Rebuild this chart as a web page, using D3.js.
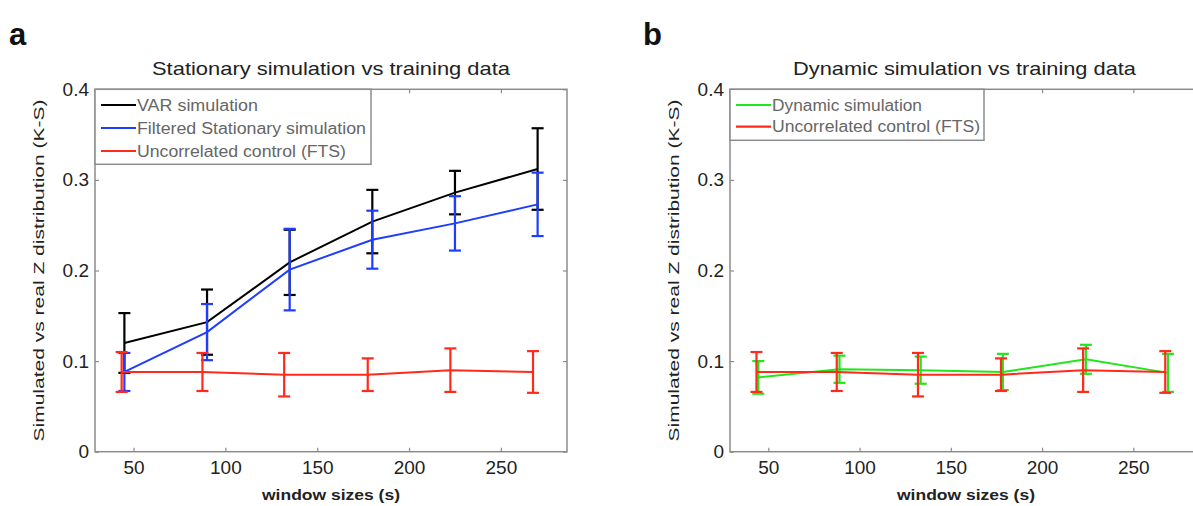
<!DOCTYPE html>
<html>
<head>
<meta charset="utf-8">
<script src="https://cdn.jsdelivr.net/npm/d3@7"></script>
<style>
  body { margin: 0; background: #fff; }
  text { font-family: "Liberation Sans", Arial, sans-serif; }
</style>
</head>
<body>
<div id="chart"></div>
<script>
// window sizes (s)
var xVar = [45, 90, 135, 180, 225, 270];
var xCtrl = [43.5, 87.5, 132, 177.5, 222.5, 267.5];
var xDyn = [44.5, 89, 133.5, 178.5, 224, 269];

// panel a
var varMean = [0.120, 0.143, 0.209, 0.254, 0.286, 0.312];
var varErr = [0.033, 0.036, 0.036, 0.035, 0.024, 0.045];
var filtMean = [0.088, 0.132, 0.201, 0.234, 0.252, 0.273];
var filtErr = [0.021, 0.031, 0.045, 0.032, 0.030, 0.035];
var ctrlMean = [0.088, 0.088, 0.085, 0.085, 0.090, 0.088];
var ctrlErr = [0.022, 0.021, 0.024, 0.018, 0.024, 0.023];

// panel b
var dynMean = [0.082, 0.091, 0.090, 0.088, 0.102, 0.087];
var dynErr = [0.018, 0.015, 0.015, 0.020, 0.016, 0.021];

var xTicks = [50, 100, 150, 200, 250];
var yTicks = [0, 0.1, 0.2, 0.3, 0.4];

var W = 1193, H = 506;
var svg = d3.select("#chart").append("svg")
  .attr("width", W).attr("height", H);

var frameCol = "#8c8c8c";

function panel(opt) {
  var x = d3.scaleLinear().domain([29, 286]).range([opt.left, opt.right]);
  var y = d3.scaleLinear().domain([0, 0.4]).range([451.7, 89.3]);
  var g = svg.append("g");

  // panel letter
  g.append("text")
    .attr("x", opt.letterX).attr("y", 45)
    .attr("font-size", 31).attr("font-weight", "bold")
    .attr("fill", "#111")
    .text(opt.letter);

  // title
  g.append("text")
    .attr("x", (opt.left + opt.right) / 2).attr("y", 75)
    .attr("text-anchor", "middle")
    .attr("font-size", 19).attr("fill", "#222")
    .attr("textLength", opt.titleLen).attr("lengthAdjust", "spacingAndGlyphs")
    .text(opt.title);

  // axes (ticks inward)
  g.append("g")
    .attr("transform", "translate(0,451.7)")
    .call(d3.axisBottom(x).tickValues(xTicks).tickSizeInner(-4).tickSizeOuter(0).tickPadding(9))
    .call(function(s) { s.select(".domain").remove(); });
  g.append("g")
    .attr("transform", "translate(0,89.3)")
    .call(d3.axisTop(x).tickValues(xTicks).tickSizeInner(-4).tickSizeOuter(0).tickFormat(""))
    .call(function(s) { s.select(".domain").remove(); });
  g.append("g")
    .attr("transform", "translate(" + opt.left + ",0)")
    .call(d3.axisLeft(y).tickValues(yTicks).tickSizeInner(-4).tickSizeOuter(0).tickPadding(6)
      .tickFormat(function(d) { return d === 0 ? "0" : d3.format(".1f")(d); }))
    .call(function(s) { s.select(".domain").remove(); });
  g.append("g")
    .attr("transform", "translate(" + opt.right + ",0)")
    .call(d3.axisRight(y).tickValues(yTicks).tickSizeInner(-4).tickSizeOuter(0).tickFormat(""))
    .call(function(s) { s.select(".domain").remove(); });

  g.selectAll(".tick line").attr("stroke", frameCol).attr("stroke-width", 1.2);
  g.selectAll(".tick text")
    .attr("font-size", 19).attr("fill", "#222")
    .attr("font-family", "'Liberation Sans', Arial, sans-serif");

  // frame
  g.append("rect")
    .attr("x", opt.left).attr("y", y(0.4))
    .attr("width", opt.right - opt.left).attr("height", y(0) - y(0.4))
    .attr("fill", "none").attr("stroke", frameCol).attr("stroke-width", 1.5);

  // axis labels
  g.append("text")
    .attr("transform", "translate(" + (opt.left - 51) + "," + ((y(0) + y(0.4)) / 2) + ") rotate(-90)")
    .attr("text-anchor", "middle")
    .attr("font-size", 15).attr("fill", "#222")
    .attr("textLength", 342).attr("lengthAdjust", "spacingAndGlyphs")
    .text("Simulated vs real Z distribution (K-S)");
  g.append("text")
    .attr("x", opt.left + 236).attr("y", 500)
    .attr("text-anchor", "middle")
    .attr("font-size", 15).attr("fill", "#222")
    .attr("font-weight", "bold")
    .attr("textLength", 138).attr("lengthAdjust", "spacingAndGlyphs")
    .text("window sizes (s)");

  // series
  var line = d3.line().x(function(d) { return x(d.x); }).y(function(d) { return y(d.m); });
  opt.series.forEach(function(s) {
    var pts = s.xs.map(function(v, i) { return { x: v, m: s.mean[i], e: s.err[i] }; });
    var sg = g.append("g");
    sg.append("path").datum(pts)
      .attr("d", line).attr("fill", "none")
      .attr("stroke", s.color).attr("stroke-width", 2);
    var eb = sg.selectAll(".eb").data(pts).enter().append("g");
    eb.append("line")
      .attr("x1", function(d) { return x(d.x); }).attr("x2", function(d) { return x(d.x); })
      .attr("y1", function(d) { return y(d.m - d.e); }).attr("y2", function(d) { return y(d.m + d.e); })
      .attr("stroke", s.color).attr("stroke-width", 2.2);
    [-1, 1].forEach(function(k) {
      eb.append("line")
        .attr("x1", function(d) { return x(d.x) - 6; }).attr("x2", function(d) { return x(d.x) + 6; })
        .attr("y1", function(d) { return y(d.m + k * d.e); }).attr("y2", function(d) { return y(d.m + k * d.e); })
        .attr("stroke", s.color).attr("stroke-width", 2.2);
    });
  });

  // legend
  var lg = g.append("g");
  lg.append("rect")
    .attr("x", opt.left).attr("y", y(0.4))
    .attr("width", opt.legendW).attr("height", opt.legendH)
    .attr("fill", "#fff").attr("stroke", frameCol).attr("stroke-width", 1.5);
  opt.series.forEach(function(s, i) {
    var ly = opt.legendY0 + i * opt.legendStep;
    lg.append("line")
      .attr("x1", opt.left + 6).attr("x2", opt.left + 41)
      .attr("y1", ly).attr("y2", ly)
      .attr("stroke", s.color).attr("stroke-width", 2.2);
    lg.append("text")
      .attr("x", opt.left + 42).attr("y", ly + 5.5)
      .attr("font-size", 16).attr("fill", "#666")
      .attr("textLength", s.labelLen).attr("lengthAdjust", "spacingAndGlyphs")
      .text(s.name);
  });
}

panel({
  letter: "a", letterX: 9, left: 95, right: 567, titleLen: 358,
  title: "Stationary simulation vs training data",
  legendW: 276, legendH: 75, legendY0: 105, legendStep: 23,
  series: [
    { name: "VAR simulation", xs: xVar, mean: varMean, err: varErr, color: "#000000", labelLen: 121 },
    { name: "Filtered Stationary simulation", xs: xVar, mean: filtMean, err: filtErr, color: "#1f3dff", labelLen: 229 },
    { name: "Uncorrelated control (FTS)", xs: xCtrl, mean: ctrlMean, err: ctrlErr, color: "#ff2a1a", labelLen: 209 }
  ]
});

panel({
  letter: "b", letterX: 643, left: 730, right: 1199, titleLen: 343,
  title: "Dynamic simulation vs training data",
  legendW: 254, legendH: 51, legendY0: 105, legendStep: 21.7,
  series: [
    { name: "Dynamic simulation", xs: xDyn, mean: dynMean, err: dynErr, color: "#22e61c", labelLen: 150 },
    { name: "Uncorrelated control (FTS)", xs: xCtrl, mean: ctrlMean, err: ctrlErr, color: "#ff2a1a", labelLen: 208 }
  ]
});
</script>
</body>
</html>
